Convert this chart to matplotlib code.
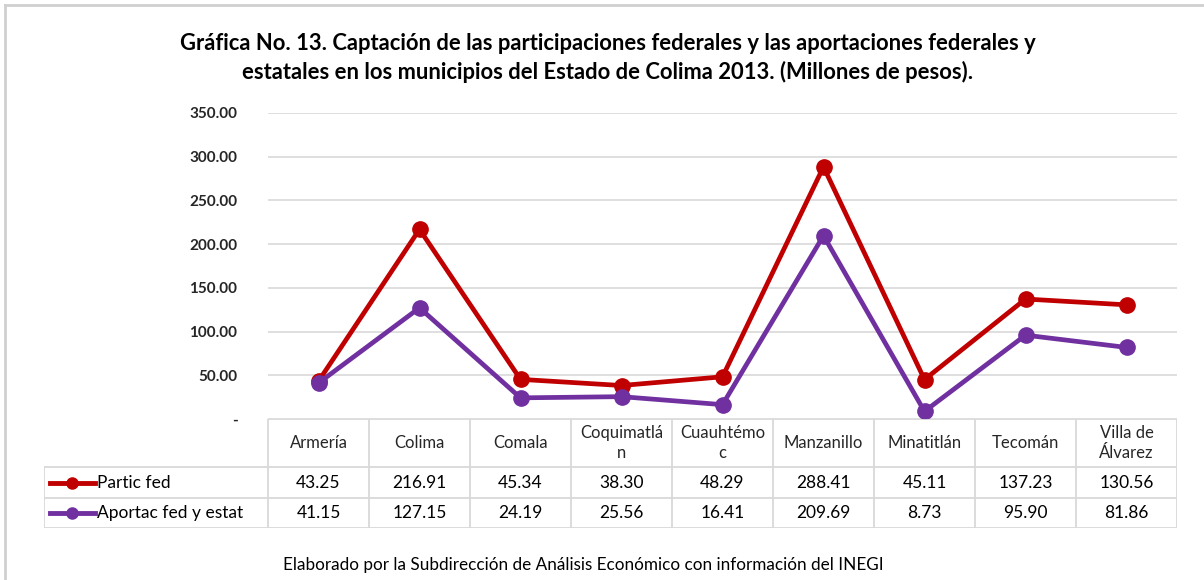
import matplotlib
matplotlib.use("Agg")
import matplotlib.pyplot as plt
from matplotlib.lines import Line2D

plt.rcParams['font.family'] = ['Lato', 'DejaVu Sans']

municipios = ["Armería", "Colima", "Comala", "Coquimatlá\nn", "Cuauhtémo\nc",
              "Manzanillo", "Minatitlán", "Tecomán", "Villa de\nÁlvarez"]
partic_fed = [43.25, 216.91, 45.34, 38.30, 48.29, 288.41, 45.11, 137.23, 130.56]
aportac_fed_estat = [41.15, 127.15, 24.19, 25.56, 16.41, 209.69, 8.73, 95.90, 81.86]
series = ["Partic fed", "Aportac fed y estat"]
colores = ["#C00000", "#7030A0"]
yticks = [0, 50, 100, 150, 200, 250, 300, 350]

W, H = 1204, 580
fig = plt.figure(figsize=(W / 100, H / 100), dpi=100)

def fx(px):
    return px / W

def fy(py):
    return 1 - py / H

# frame: only top and left edges show
fig.add_artist(Line2D([fx(5), 1], [fy(5), fy(5)], transform=fig.transFigure,
                      color="#D0D0D0", lw=2))
fig.add_artist(Line2D([fx(5), fx(5)], [fy(5), 0], transform=fig.transFigure,
                      color="#D0D0D0", lw=2))

fig.text(0.505, fy(43), "Gráfica No. 13. Captación de las participaciones federales y las aportaciones federales y",
         ha="center", va="center", fontsize=15.8, fontweight="bold", color="black")
fig.text(0.505, fy(72), "estatales en los municipios del Estado de Colima 2013. (Millones de pesos).",
         ha="center", va="center", fontsize=15.8, fontweight="bold", color="black")

left, right, top, bottom = 268, 1177, 113, 419
ax = fig.add_axes([fx(left), fy(bottom), fx(right - left), fy(top) - fy(bottom)])
n = len(municipios)
xs = [i + 0.5 for i in range(n)]
for vals, c, name in zip([partic_fed, aportac_fed_estat], colores, series):
    ax.plot(xs, vals, color=c, linewidth=3.4, marker="o", markersize=11, label=name,
            solid_joinstyle="round", zorder=3)
ax.set_xlim(0, n)
ax.set_ylim(0, 350)
ax.set_yticks(yticks)
ax.set_yticklabels(["-" if v == 0 else f"{v:.2f}" for v in yticks],
                   fontsize=11, fontweight="bold", color="#262626")
ax.tick_params(axis="y", length=0, pad=22)
ax.set_xticks([])
ax.grid(axis="y", color="#D9D9D9", linewidth=1.2)
ax.set_axisbelow(True)
for s in ax.spines.values():
    s.set_visible(False)

# data table below the plot
tleft, trow0, trow1, trow2, trow3 = 44, 419, 467, 498, 528
tax = fig.add_axes([fx(tleft), fy(trow3), fx(right - tleft), fy(trow0) - fy(trow3)])
tax.set_axis_off()
colw = (right - left) / n
lw_cols = (left - tleft) / colw
tax.set_xlim(-lw_cols, n)
tax.set_ylim(trow3, trow0)
gc = "#D9D9D9"
tax.plot([0, n], [trow0, trow0], color=gc, lw=1.3)
for yy in [trow1, trow2, trow3]:
    tax.plot([-lw_cols, n], [yy, yy], color=gc, lw=1.3)
tax.plot([-lw_cols, -lw_cols], [trow1, trow3], color=gc, lw=1.3)
for i in range(n + 1):
    tax.plot([i, i], [trow0, trow3], color=gc, lw=1.3)

for i, name in enumerate(municipios):
    tax.text(i + 0.5, (trow0 + trow1) / 2, name, ha="center", va="center",
             fontsize=12, color="#262626", linespacing=1.35)

rows_y = [(trow1 + trow2) / 2, (trow2 + trow3) / 2]
for vals, c, name, ry in zip([partic_fed, aportac_fed_estat], colores, series, rows_y):
    for i, v in enumerate(vals):
        tax.text(i + 0.5, ry, f"{v:.2f}", ha="center", va="center", fontsize=12.5,
                 color="black")
    x0 = -lw_cols + 6 / colw
    x1 = -lw_cols + 51 / colw
    tax.add_line(Line2D([x0, x1], [ry, ry], color=c, lw=3.5))
    tax.plot([(x0 + x1) / 2], [ry], marker="o", color=c, markersize=8)
    tax.text(x1 + 2 / colw, ry, name, ha="left", va="center", fontsize=12.5, color="black")

fig.text(fx(583), fy(565), "Elaborado por la Subdirección de Análisis Económico con información del INEGI",
         ha="center", va="center", fontsize=12.3, color="black")

fig.savefig("out.png", dpi=100)
